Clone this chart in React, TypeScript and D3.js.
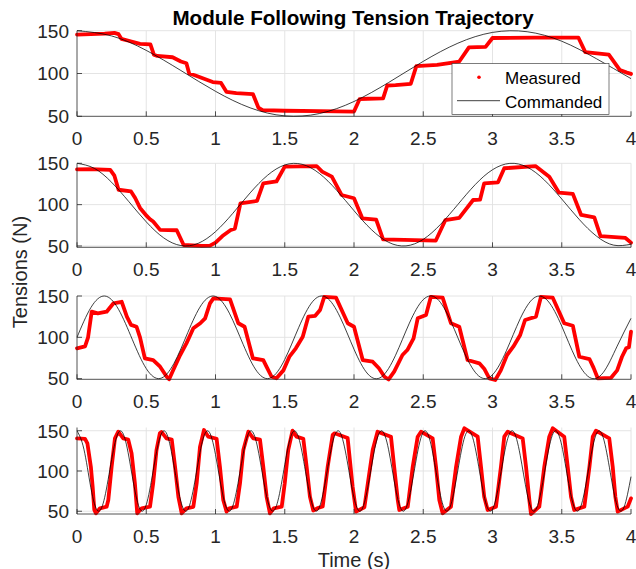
import React from 'react';
import * as d3 from 'd3';

const TIME_TICKS = [0, 0.5, 1, 1.5, 2, 2.5, 3, 3.5, 4];
const TIME_TICK_LABELS = ['0', '0.5', '1', '1.5', '2', '2.5', '3', '3.5', '4'];
const TENSION_TICKS = [50, 100, 150];

const TITLE = 'Module Following Tension Trajectory';
const X_LABEL = 'Time (s)';
const Y_LABEL = 'Tensions (N)';
const LEGEND_LABELS = ['Measured', 'Commanded'];

// Commanded trajectories at a regular time step
const cmd1Step = 0.25;
const cmd1 = [150, 143.9, 127, 103.5, 79.2, 59.9, 50.5, 53.2, 67.3, 89.5, 114.2, 135.4, 148, 148.8, 137.7, 117.3, 94];

const cmd2Step = 0.125;
const cmd2 = [150, 143.9, 127, 103.5, 79.2, 59.9, 50.5, 53.2, 67.3, 89.5, 114.2, 135.4, 148, 148.8, 137.7, 117.3,
  92.7, 69.9, 54.4, 50.1, 58, 76.2, 100.2, 124.2, 142.2, 149.9, 145.4, 129.7, 106.8, 82.3, 62, 51, 52.1];

const cmd3Step = 0.1;
const cmd3 = [100, 135.9, 150, 133.8, 97.1, 62.2, 50.2, 68.4, 105.8, 139.7, 149.5, 129.2, 91.3, 58.6, 51, 73.2,
  111.6, 143, 148.4, 124.3, 85.6, 55.6, 52.3, 78.3, 117.2, 145.6, 146.7, 119, 80.1, 53.3, 54.7, 83.7,
  122.5, 147.7, 144, 113.5, 74.9, 51.5, 57.5, 89.3, 123];

const cmd4Step = 0.05;
const cmd4 = [150, 127, 79.2, 50.5, 67.3, 114.2, 148, 137.7, 92.7, 54.4, 58, 100.2, 142.2, 145.4, 106.8, 62,
  52.1, 86.2, 133, 149.4, 120.4, 72.6, 50, 73.4, 121.2, 149.6, 132.3, 85.4, 51.9, 62.6, 107.7, 145.7,
  141.7, 99.3, 57.6, 54.8, 93.6, 138.3, 147.8, 113.3, 66.7, 50.6, 80, 127.8, 150, 126.3, 78.4, 50.4,
  68, 115, 148.3, 137.1, 91.9, 54.1, 58.5, 101.1, 142.7, 145, 106, 61.4, 52.4, 87.1, 133.7, 149.3,
  119.6, 71.9, 50, 74.1, 122, 149.7, 131.7, 84.6, 51.6, 63.2, 108.6, 146.1, 141.2, 98.5, 57.1, 55.2, 93];

// Measured tensions
const meas1Time = [0, 0.1, 0.2, 0.27, 0.3, 0.32, 0.38, 0.455, 0.53, 0.555, 0.58, 0.69, 0.75, 0.79, 0.81,
  0.85, 0.98, 1.04, 1.08, 1.15, 1.27, 1.31, 1.34, 1.5, 1.75, 2.0, 2.04, 2.1, 2.21, 2.24, 2.3, 2.41, 2.45,
  2.6, 2.76, 2.83, 2.95, 3.0, 3.3, 3.62, 3.67, 3.84, 3.92, 3.97, 4.0];
const meas1Tension = [145.5, 146, 146.5, 147.5, 146, 140.5, 138, 134.6, 134, 122, 120.5, 119, 114, 112, 100,
  98, 90, 89, 78.5, 77, 76, 60, 57.3, 56.5, 56, 55.5, 70, 70.5, 71, 86, 86.5, 88, 108.6,
  110, 114, 130.5, 131, 141.5, 142, 142, 125, 122, 104, 101, 99.5];

const meas2Time = [0, 0.1, 0.24, 0.27, 0.3, 0.39, 0.42, 0.455, 0.505, 0.53, 0.55, 0.6, 0.72, 0.77, 0.9,
  0.96, 1.0, 1.05, 1.11, 1.14, 1.18, 1.3, 1.345, 1.44, 1.5, 1.73, 1.77, 1.84, 1.91, 2.0, 2.06, 2.16, 2.21,
  2.59, 2.66, 2.76, 2.86, 2.91, 2.94, 3.04, 3.085, 3.31, 3.41, 3.48, 3.58, 3.64, 3.735, 3.78, 3.96, 4.0];
const meas2Tension = [142.7, 143, 142, 135, 118, 116, 108, 96, 86, 82, 79.5, 69.5, 69, 51.2, 50,
  50.5, 54, 62, 69.3, 71, 101.5, 104.5, 125.8, 128, 146, 146.7, 140, 133.8, 111.7, 107.7, 83.5, 82, 58,
  56.4, 81.4, 84, 105.6, 106, 125.8, 127, 144, 146.7, 133.8, 114.5, 113, 87.5, 84.7, 62, 59.7, 54];

const meas3Time = [0, 0.058, 0.08, 0.106, 0.15, 0.214, 0.262, 0.323, 0.36, 0.39, 0.43, 0.455, 0.49, 0.55,
  0.6, 0.648, 0.665, 0.695, 0.745, 0.79, 0.84, 0.89, 0.925, 0.96, 0.985, 1.105, 1.165, 1.21, 1.27, 1.345,
  1.37, 1.405, 1.44, 1.49, 1.535, 1.58, 1.63, 1.67, 1.72, 1.755, 1.785, 1.87, 1.955, 2.0, 2.063, 2.135,
  2.18, 2.22, 2.25, 2.29, 2.35, 2.385, 2.43, 2.46, 2.52, 2.555, 2.64, 2.7, 2.76, 2.82, 2.905, 2.94, 2.977,
  3.02, 3.06, 3.105, 3.15, 3.2, 3.235, 3.314, 3.35, 3.435, 3.518, 3.58, 3.627, 3.7, 3.73, 3.76, 3.856,
  3.9, 3.935, 3.965, 3.985, 4.0];
const meas3Tension = [86.7, 89, 100, 131, 129, 131, 141, 143, 125, 115, 112.8, 100, 74.6, 72.5,
  64.4, 52.3, 49.2, 60.4, 78.6, 92.7, 110.9, 117, 123, 141, 147.2, 146, 117, 112.8, 74.6, 72.5,
  64, 52.3, 50.5, 60, 77, 86.7, 100.7, 125, 126, 133, 149, 148, 117, 112.8, 72.5, 70.5,
  62.5, 52.3, 49, 58.4, 78.6, 84.6, 98.8, 123, 127, 149, 148, 117, 112.8, 72.5, 68.5, 62, 50.4,
  48.3, 60, 78.6, 88.7, 102.8, 121, 125, 149, 148, 117, 114, 76.5, 73.7, 63, 50.4, 51,
  60, 76.5, 86.7, 88, 106.8];

const meas4Time = [0, 0.058, 0.075, 0.1, 0.113, 0.125, 0.137, 0.166, 0.214, 0.226, 0.25, 0.274, 0.298,
  0.334, 0.37, 0.394, 0.418, 0.435, 0.467, 0.527, 0.55, 0.574, 0.598, 0.61, 0.646, 0.684, 0.708, 0.732,
  0.756, 0.79, 0.84, 0.864, 0.888, 0.917, 0.948, 1.008, 1.032, 1.056, 1.08, 1.1, 1.153, 1.177, 1.201,
  1.237, 1.273, 1.321, 1.345, 1.369, 1.393, 1.42, 1.478, 1.5, 1.525, 1.556, 1.585, 1.634, 1.658, 1.682,
  1.706, 1.74, 1.774, 1.81, 1.846, 1.86, 1.954, 1.99, 2.015, 2.075, 2.1, 2.135, 2.17, 2.267, 2.29, 2.316,
  2.327, 2.388, 2.424, 2.46, 2.484, 2.568, 2.592, 2.616, 2.64, 2.7, 2.737, 2.773, 2.797, 2.893, 2.917,
  2.94, 2.965, 3.025, 3.061, 3.085, 3.11, 3.218, 3.242, 3.266, 3.278, 3.338, 3.374, 3.41, 3.435, 3.518,
  3.543, 3.567, 3.59, 3.663, 3.7, 3.724, 3.747, 3.843, 3.868, 3.887, 3.904, 3.976, 4.0];
const meas4Tension = [140.5, 140, 134.4, 105.3, 80.5, 51.6, 47.5, 53.7, 55.7, 64, 105.3, 140.5, 148.8,
  140.5, 139, 122, 84.7, 47.5, 53.7, 55.7, 84.7, 126, 146.8, 148.5, 140.5, 139, 105.3, 68,
  47.5, 53.7, 55.5, 84.7, 130, 150.9, 142.6, 140, 105.3, 64, 49.5, 53.7, 55.7, 84.7, 126,
  148.8, 140.5, 139, 105.3, 68, 47.5, 53.7, 55.7, 84.7, 126, 150, 142.6, 140, 105.3, 68,
  51, 54, 56, 105.3, 144.7, 146.8, 141, 80.5, 49.5, 55, 84.7, 126, 148.8, 142.6, 105.3, 64,
  51.6, 55.7, 105.3, 142.6, 148.8, 140.5, 105.3, 64, 47.5, 55.7, 105.3, 142.6, 153, 142.6, 105.3,
  68, 51.6, 55.7, 105.3, 142.6, 148.8, 140.5, 105.3, 64, 46.5, 55.7, 105.3, 142.6, 153, 142.6,
  105.3, 68, 51.6, 55.7, 105.3, 142.6, 150, 140.5, 105.3, 68, 49.5, 55.7, 66];

const FONT = "'Liberation Sans', Arial, Helvetica, sans-serif";
const AXIS_COLOR = '#262626';
const GRID_COLOR = '#e1e1e1';
const LEFT = 77;
const RIGHT = 631;

const panels = [
  { top: 30.7, bottom: 116.3, lo: 50, hi: 150, cmd: cmd1, step: cmd1Step, mt: meas1Time, mv: meas1Tension },
  { top: 163.3, bottom: 247.3, lo: 48.4, hi: 150, cmd: cmd2, step: cmd2Step, mt: meas2Time, mv: meas2Tension },
  { top: 296, bottom: 379.3, lo: 49.2, hi: 150, cmd: cmd3, step: cmd3Step, mt: meas3Time, mv: meas3Tension },
  { top: 427.5, bottom: 514, lo: 46.6, hi: 154, cmd: cmd4, step: cmd4Step, mt: meas4Time, mv: meas4Tension },
];

export default function App() {
  const x = d3.scaleLinear().domain([0, 4]).range([LEFT, RIGHT]);

  return (
    <svg width={636} height={569} style={{ position: 'absolute', left: 0, top: 0, background: '#fff' }} fontFamily={FONT}>
      <rect x={0} y={0} width={636} height={569} fill="#fff" />
      {panels.map((p, i) => {
        const y = d3.scaleLinear().domain([p.lo, p.hi]).range([p.bottom, p.top]);
        const cmdLine = d3.line<number>()
          .x((_, k) => x(Math.min(k * p.step, 4)))
          .y((v) => y(v))
          .curve(d3.curveNatural);
        const measLine = d3.line<number>()
          .x((_, k) => x(p.mt[k]))
          .y((v) => y(v));
        const axisTop = y(150);
        return (
          <g key={i}>
            {TIME_TICKS.map((t) => t > 0 && (
              <line key={'gx' + t} x1={x(t)} x2={x(t)} y1={p.top} y2={p.bottom} stroke={GRID_COLOR} strokeWidth={0.9} />
            ))}
            {TENSION_TICKS.map((v) => Math.abs(y(v) - p.bottom) > 1 && (
              <line key={'gy' + v} x1={LEFT} x2={RIGHT} y1={y(v)} y2={y(v)} stroke={GRID_COLOR} strokeWidth={0.9} />
            ))}
            <path d={measLine(p.mv) || ''} fill="none" stroke="#ff0000" strokeWidth={3.8} strokeLinejoin="round" strokeLinecap="round" />
            <path d={cmdLine(p.cmd) || ''} fill="none" stroke="#000" strokeWidth={0.75} />
            <line x1={LEFT} x2={LEFT} y1={Math.min(p.top, axisTop)} y2={p.bottom} stroke={AXIS_COLOR} strokeWidth={0.8} />
            <line x1={LEFT} x2={RIGHT} y1={p.bottom} y2={p.bottom} stroke={AXIS_COLOR} strokeWidth={0.8} />
            {TIME_TICKS.map((t, k) => (
              <g key={'tx' + t}>
                <line x1={x(t)} x2={x(t)} y1={p.bottom} y2={p.bottom - 5} stroke={AXIS_COLOR} strokeWidth={0.8} />
                <text x={x(t)} y={p.bottom + 28.5} textAnchor="middle" fontSize={19} fill={AXIS_COLOR}>{TIME_TICK_LABELS[k]}</text>
              </g>
            ))}
            {TENSION_TICKS.map((v) => (
              <g key={'ty' + v}>
                <line x1={LEFT} x2={LEFT + 5} y1={y(v)} y2={y(v)} stroke={AXIS_COLOR} strokeWidth={0.8} />
                <text x={69} y={y(v) + 6.8} textAnchor="end" fontSize={19} fill={AXIS_COLOR}>{v}</text>
              </g>
            ))}
          </g>
        );
      })}

      <text x={353} y={25} textAnchor="middle" fontSize={20.6} fontWeight="bold" fill="#000">{TITLE}</text>
      <text transform="translate(26.5,272) rotate(-90)" textAnchor="middle" fontSize={20} fill={AXIS_COLOR}>{Y_LABEL}</text>
      <text x={354} y={566.5} textAnchor="middle" fontSize={20} fill={AXIS_COLOR}>{X_LABEL}</text>

      <g>
        <rect x={452} y={63.5} width={157} height={50.8} fill="#fff" stroke={AXIS_COLOR} strokeWidth={0.6} />
        <circle cx={479} cy={77.3} r={1.8} fill="#ff0000" />
        <line x1={457} x2={500} y1={100.7} y2={100.7} stroke="#000" strokeWidth={0.75} />
        <text x={505} y={84} fontSize={17} fill="#000">{LEGEND_LABELS[0]}</text>
        <text x={505} y={108} fontSize={17} fill="#000">{LEGEND_LABELS[1]}</text>
      </g>
    </svg>
  );
}
